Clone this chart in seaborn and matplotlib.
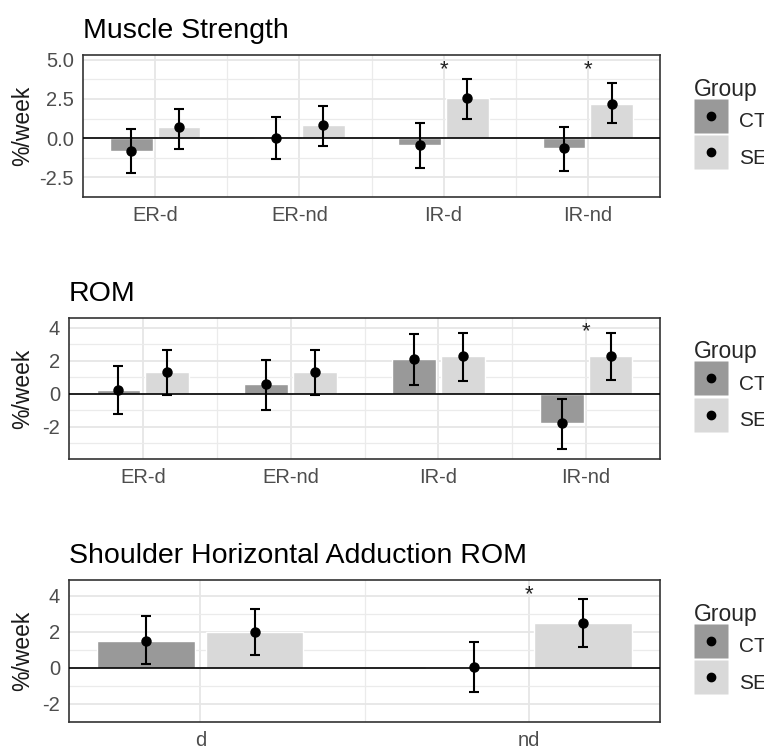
import numpy as np
import pandas as pd
import matplotlib.pyplot as plt
import matplotlib.transforms as mtransforms
import seaborn as sns
from matplotlib.lines import Line2D

# --------------------------------------------------
# Data
# --------------------------------------------------
groups = ["CT", "SE"]
group_colors = ["#999999", "#d9d9d9"]

# Muscle Strength
strength_cats = ["ER-d", "ER-nd", "IR-d", "IR-nd"]
strength_ct = [-0.85, 0.0, -0.45, -0.65]
strength_ct_lo = [-2.2, -1.32, -1.9, -2.1]
strength_ct_hi = [0.58, 1.32, 0.98, 0.74]
strength_se = [0.68, 0.85, 2.55, 2.2]
strength_se_lo = [-0.66, -0.5, 1.2, 0.94]
strength_se_hi = [1.88, 2.08, 3.8, 3.5]
strength_stars = ["IR-d", "IR-nd"]

# ROM
rom_cats = ["ER-d", "ER-nd", "IR-d", "IR-nd"]
rom_ct = [0.2, 0.58, 2.08, -1.8]
rom_ct_lo = [-1.26, -1.0, 0.54, -3.34]
rom_ct_hi = [1.66, 2.06, 3.6, -0.3]
rom_se = [1.3, 1.3, 2.26, 2.28]
rom_se_lo = [-0.1, -0.1, 0.74, 0.84]
rom_se_hi = [2.64, 2.64, 3.7, 3.7]
rom_stars = ["IR-nd"]

# Shoulder Horizontal Adduction ROM
sha_cats = ["d", "nd"]
sha_ct = [1.5, 0.05]
sha_ct_lo = [0.22, -1.32]
sha_ct_hi = [2.88, 1.44]
sha_se = [1.98, 2.48]
sha_se_lo = [0.7, 1.18]
sha_se_hi = [3.26, 3.82]
sha_stars = ["nd"]


sns.set_style("white")
plt.rcParams["font.family"] = ["Liberation Sans", "DejaVu Sans"]
plt.rcParams["axes.unicode_minus"] = False

W, H = 764, 756
fig = plt.figure(figsize=(W / 100, H / 100), dpi=100)


def draw_panel(rect, title, cats, ct, ct_lo, ct_hi, se, se_lo, se_hi, stars,
               yticks, ylim, xlim, fmt):
    ax = fig.add_axes(rect)
    df = pd.DataFrame({
        "cat": cats * 2,
        "group": np.repeat(groups, len(cats)),
        "mean": ct + se,
        "lo": ct_lo + se_lo,
        "hi": ct_hi + se_hi,
    })

    sns.barplot(data=df, x="cat", y="mean", hue="group", hue_order=groups,
                palette=group_colors, width=0.66, gap=0.1, errorbar=None,
                saturation=1, legend=False, ax=ax, zorder=2)

    # points + error bars at the centre of each bar
    for cont, g in zip(ax.containers, groups):
        sub = df[df["group"] == g]
        xs = [p.get_x() + p.get_width() / 2 for p in cont.patches]
        m = sub["mean"].to_numpy()
        yerr = [m - sub["lo"].to_numpy(), sub["hi"].to_numpy() - m]
        ax.errorbar(xs, m, yerr=yerr, fmt="o", color="black", ms=6.5,
                    elinewidth=1.5, capsize=3.5, capthick=1.5, zorder=4)

    ax.axhline(0, color="black", lw=1.2, zorder=3)

    # significance stars
    trans = mtransforms.blended_transform_factory(ax.transData, ax.transAxes)
    for s in stars:
        ax.text(cats.index(s), 0.9, "*", transform=trans, ha="center",
                va="center", fontsize=16, color="#222222")

    ax.set_xlim(*xlim)
    ax.set_ylim(*ylim)
    ax.set_yticks(yticks)
    ax.set_yticklabels([fmt.format(v) for v in yticks])
    step = yticks[1] - yticks[0]
    ax.set_yticks(np.arange(yticks[0] - step / 2, ylim[1], step), minor=True)
    ax.set_xticks(np.arange(0.5, len(cats) - 1, 1), minor=True)

    ax.set_axisbelow(True)
    ax.grid(which="major", color="#E6E6E6", lw=1.3)
    ax.grid(which="minor", color="#EBEBEB", lw=0.9)
    for sp in ax.spines.values():
        sp.set_color("#333333")
        sp.set_linewidth(1.2)
    ax.tick_params(which="major", colors="#333333", labelcolor="#4D4D4D",
                   labelsize=14.5, length=4, width=1, pad=2.5)
    ax.tick_params(which="minor", length=0)

    ax.set_xlabel("")
    ax.set_ylabel("%/week", fontsize=16.5, color="#1a1a1a")
    ax.yaxis.set_label_coords(
        34 / W, 0.5,
        transform=mtransforms.blended_transform_factory(fig.transFigure, ax.transAxes))
    ax.set_title(title, loc="left", fontsize=20.5, pad=12, color="black")

    # legend key: grey square with a black dot in the middle
    handles = [(Line2D([], [], marker="s", ms=24, color=c, mec="none", ls=""),
                Line2D([], [], marker="o", color="black", ls="", ms=6))
               for c in group_colors]
    ax.legend(handles, groups, title="Group", loc="center left",
              bbox_to_anchor=(694 / W, 0.5), frameon=False,
              bbox_transform=mtransforms.blended_transform_factory(fig.transFigure, ax.transAxes),
              borderpad=0, borderaxespad=0, fontsize=15, numpoints=1,
              title_fontsize=16.5, handlelength=1.6, handleheight=2.1,
              handletextpad=0.55, labelspacing=0.15, alignment="left")
    return ax


def rect(left, top, right, bottom):
    return [left / W, 1 - bottom / H, (right - left) / W, (bottom - top) / H]


draw_panel(rect(83, 55, 660, 197), "Muscle Strength",
           strength_cats, strength_ct, strength_ct_lo, strength_ct_hi,
           strength_se, strength_se_lo, strength_se_hi, strength_stars,
           [-2.5, 0.0, 2.5, 5.0], (-3.2, 5.3), (-0.5, 3.5), "{:.1f}")

draw_panel(rect(69, 318, 660, 459), "ROM",
           rom_cats, rom_ct, rom_ct_lo, rom_ct_hi,
           rom_se, rom_se_lo, rom_se_hi, rom_stars,
           [-2, 0, 2, 4], (-3.96, 4.58), (-0.5, 3.5), "{:d}")

draw_panel(rect(69, 580, 660, 722), "Shoulder Horizontal Adduction ROM",
           sha_cats, sha_ct, sha_ct_lo, sha_ct_hi,
           sha_se, sha_se_lo, sha_se_hi, sha_stars,
           [-2, 0, 2, 4], (-2.34, 4.88), (-0.4, 1.4), "{:d}")

fig.savefig("out.png", dpi=100)
